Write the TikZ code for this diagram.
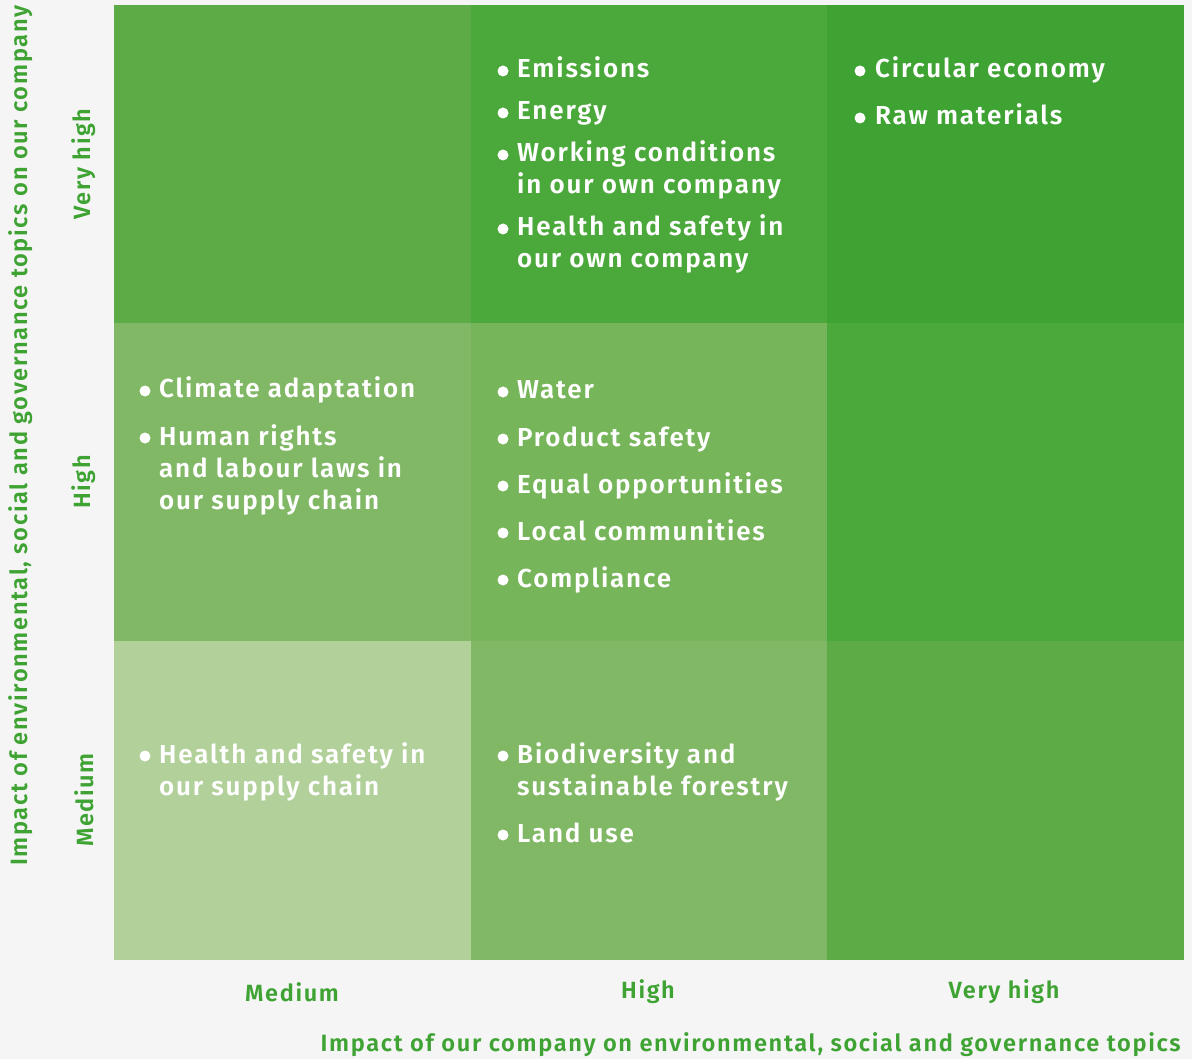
\documentclass[tikz,border=0pt]{standalone}
\usepackage{fontspec}
\setmainfont{Fira Sans}[BoldFont = * SemiBold]
\newfontfamily\spacedfont{Fira Sans}[LetterSpace=7, BoldFont = * SemiBold]
\begin{document}
\definecolor{bgc}{HTML}{F5F5F5}
\definecolor{axisc}{HTML}{3EA333}
\definecolor{cA}{HTML}{3EA333}
\definecolor{cB}{HTML}{4BA83A}
\definecolor{cC}{HTML}{5DAB46}
\definecolor{cD}{HTML}{76B559}
\definecolor{cE}{HTML}{81B865}
\definecolor{cF}{HTML}{B2D09A}
\begin{tikzpicture}[x=1pt,y=-1pt,
  itemtxt/.style={anchor=base west,inner sep=0pt,text=white,font=\spacedfont\fontsize{26}{31}\selectfont\bfseries},
  axislbl/.style={inner sep=0pt,text=axisc,font=\spacedfont\fontsize{23.5}{28}\selectfont\bfseries},
  axistitle/.style={inner sep=0pt,text=axisc,font=\spacedfont\fontsize{23.6}{28}\selectfont\bfseries},
  dot/.style={circle,fill=white,inner sep=0pt,minimum size=11pt}]
% page and background
\fill[bgc] (0,0) rectangle (1192,1059);
\useasboundingbox (0,0) rectangle (1192,1059);
% matrix cells
\fill[cC] (114,5)   rectangle (471,323);
\fill[cB] (471,5)   rectangle (827,323);
\fill[cA] (827,5)   rectangle (1184,323);
\fill[cE] (114,323) rectangle (471,641);
\fill[cD] (471,323) rectangle (827,641);
\fill[cB] (827,323) rectangle (1184,641);
\fill[cF] (114,641) rectangle (471,960);
\fill[cE] (471,641) rectangle (827,960);
\fill[cC] (827,641) rectangle (1184,960);
% bullets
\foreach \bx/\by [count=\i] in {503/71,503/113,503/155,503/229,860/71,860/118,
  145/391,145/438,503/392,503/439,503/486,503/533,503/580,
  145/756,503/756,503/835}
  \node[dot] (b\i) at (\bx,\by) {};
% top row
\node[itemtxt] (e1) at (517,78) {Emissions};
\node[itemtxt] (e2) at (517,120) {Energy};
\node[itemtxt] (e3) at (517,162) {Working conditions};
\node[itemtxt] (e3b) at (517,194) {in our own company};
\node[itemtxt] (e4) at (517,236) {Health and safety in};
\node[itemtxt] (e4b) at (517,268) {our own company};
\node[itemtxt] (r1) at (875,78) {Circular economy};
\node[itemtxt] (r2) at (875,125) {Raw materials};
% middle row
\node[itemtxt] (m1) at (159,398) {Climate adaptation};
\node[itemtxt] (m2) at (159,445) {Human rights};
\node[itemtxt] (m2b) at (159,477) {and labour laws in};
\node[itemtxt] (m2c) at (159,509) {our supply chain};
\node[itemtxt] (h1) at (517,399) {Water};
\node[itemtxt] (h2) at (517,446) {Product safety};
\node[itemtxt] (h3) at (517,493) {Equal opportunities};
\node[itemtxt] (h4) at (517,540) {Local communities};
\node[itemtxt] (h5) at (517,587) {Compliance};
% bottom row
\node[itemtxt] (l1) at (159,763) {Health and safety in};
\node[itemtxt] (l1b) at (159,795) {our supply chain};
\node[itemtxt] (n1) at (517,763) {Biodiversity and};
\node[itemtxt] (n1b) at (517,795) {sustainable forestry};
\node[itemtxt] (n2) at (517,842) {Land use};
% axis level labels
\node[axislbl] (xm) at (292,992) {Medium};
\node[axislbl] (xh) at (648,992) {High};
\node[axislbl] (xv) at (1004,992) {Very high};
\node[axislbl,rotate=90] (yv) at (84,164) {Very high};
\node[axislbl,rotate=90] (yh) at (84,482) {High};
\node[axislbl,rotate=90] (ym) at (84,800) {Medium};
% axis titles
\node[axistitle,anchor=east] (xt) at (1181,1045) {Impact of our company on environmental, social and governance topics};
\node[axistitle,rotate=90,anchor=west] (yt) at (21,866) {Impact of environmental, social and governance topics on our company};
\end{tikzpicture}
\end{document}
